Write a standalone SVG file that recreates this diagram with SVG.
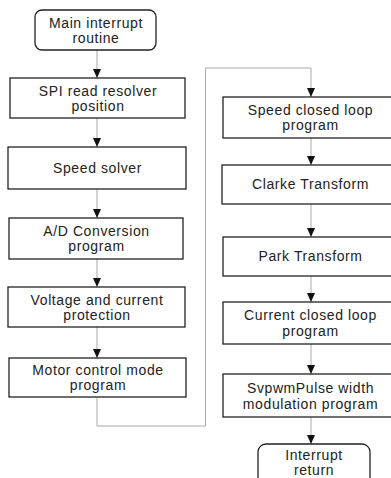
<svg xmlns="http://www.w3.org/2000/svg" width="391" height="478" viewBox="0 0 391 478">
  <style>
    .box { fill: #fff; stroke: #222; stroke-width: 1.3; }
    .lbl { font-family: "Liberation Sans", Arial, sans-serif; font-size: 14px; letter-spacing: 0.6px; fill: #222; text-anchor: middle; }
    .wire { fill: none; stroke: #aaa; stroke-width: 1; }
  </style>
  <defs>
    <marker id="head" viewBox="0 0 9 8" refX="9" refY="4" markerWidth="9" markerHeight="8" markerUnits="userSpaceOnUse" orient="auto">
      <path d="M0,0 L9,4 L0,8 Z" fill="#111"/>
    </marker>
  </defs>

  <rect width="391" height="478" fill="#fff"/>

  <!-- connectors -->
  <g id="connectors">
    <path class="wire" d="M97,50 V78" marker-end="url(#head)"/>
    <path class="wire" d="M97,118 V147" marker-end="url(#head)"/>
    <path class="wire" d="M97,189 V218" marker-end="url(#head)"/>
    <path class="wire" d="M97,259 V287" marker-end="url(#head)"/>
    <path class="wire" d="M97,327 V358" marker-end="url(#head)"/>
    <path class="wire" d="M97,397 V426 H205.5 V68 H311 V97" marker-end="url(#head)"/>
    <path class="wire" d="M311,138 V165" marker-end="url(#head)"/>
    <path class="wire" d="M311,204 V237" marker-end="url(#head)"/>
    <path class="wire" d="M311,276 V302" marker-end="url(#head)"/>
    <path class="wire" d="M311,344 V374" marker-end="url(#head)"/>
    <path class="wire" d="M311,417 V444" marker-end="url(#head)"/>
  </g>

  <!-- left column -->
  <g id="main-interrupt">
    <rect class="box" x="35" y="10" width="121" height="40" rx="7"/>
    <text class="lbl" x="96" y="28">Main interrupt</text>
    <text class="lbl" x="96" y="43">routine</text>
  </g>
  <g id="spi-read">
    <rect class="box" x="10" y="78" width="175" height="40"/>
    <text class="lbl" x="98" y="96">SPI read resolver</text>
    <text class="lbl" x="98" y="111">position</text>
  </g>
  <g id="speed-solver">
    <rect class="box" x="8" y="147" width="178" height="42"/>
    <text class="lbl" x="97.5" y="173">Speed solver</text>
  </g>
  <g id="ad-conversion">
    <rect class="box" x="9" y="218" width="174" height="41"/>
    <text class="lbl" x="96.5" y="236">A/D Conversion</text>
    <text class="lbl" x="96.5" y="251">program</text>
  </g>
  <g id="protection">
    <rect class="box" x="8" y="287" width="177" height="40"/>
    <text class="lbl" x="97" y="305">Voltage and current</text>
    <text class="lbl" x="97" y="320">protection</text>
  </g>
  <g id="motor-mode">
    <rect class="box" x="9" y="358" width="177" height="39"/>
    <text class="lbl" x="98" y="375">Motor control mode</text>
    <text class="lbl" x="98" y="390">program</text>
  </g>

  <!-- right column -->
  <g id="speed-loop">
    <rect class="box" x="223" y="97" width="180" height="41"/>
    <text class="lbl" x="310.5" y="115">Speed closed loop</text>
    <text class="lbl" x="310.5" y="130">program</text>
  </g>
  <g id="clarke">
    <rect class="box" x="222" y="165" width="180" height="39"/>
    <text class="lbl" x="310.5" y="189">Clarke Transform</text>
  </g>
  <g id="park">
    <rect class="box" x="223" y="237" width="180" height="39"/>
    <text class="lbl" x="310.5" y="261">Park Transform</text>
  </g>
  <g id="current-loop">
    <rect class="box" x="223" y="302" width="180" height="42"/>
    <text class="lbl" x="310.5" y="320">Current closed loop</text>
    <text class="lbl" x="310.5" y="336">program</text>
  </g>
  <g id="svpwm">
    <rect class="box" x="223" y="374" width="180" height="43"/>
    <text class="lbl" x="310.5" y="393">SvpwmPulse width</text>
    <text class="lbl" x="310.5" y="409">modulation program</text>
  </g>
  <g id="interrupt-return">
    <rect class="box" x="258" y="444" width="112" height="50" rx="8"/>
    <text class="lbl" x="314" y="460">Interrupt</text>
    <text class="lbl" x="314" y="475">return</text>
  </g>
</svg>
